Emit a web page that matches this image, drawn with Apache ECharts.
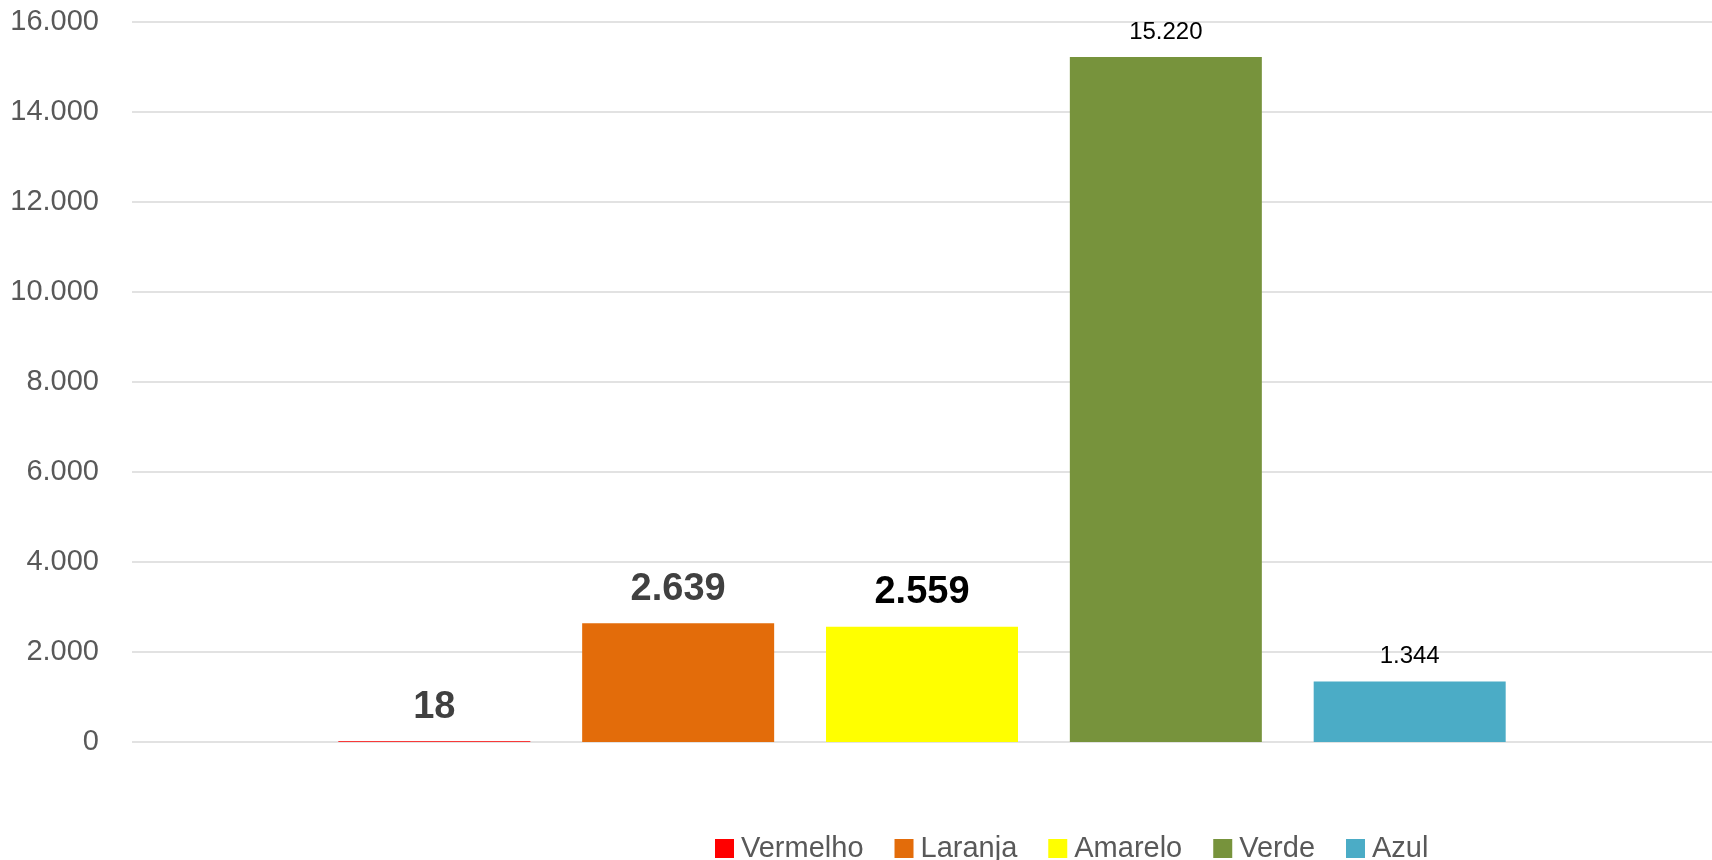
<!DOCTYPE html>
<html>
<head>
<meta charset="utf-8">
<script src="https://cdn.jsdelivr.net/npm/echarts@6/dist/echarts.min.js"></script>
<style>
  html, body { margin: 0; padding: 0; background: #fff; }
  #chart { width: 1712px; height: 860px; }
</style>
</head>
<body>
<div id="chart"></div>
<script>
// Single category, one series per colour class
const categories = [''];
const seriesNames = ['Vermelho', 'Laranja', 'Amarelo', 'Verde', 'Azul'];
const seriesValues = [18, 2639, 2559, 15220, 1344];
const yTicks = { min: 0, max: 16000, interval: 2000 };

const palette = ['#FF0000', '#E36C0A', '#FFFF00', '#77933C', '#4BACC6'];
// value label style per series (bold large, or plain small)
const labelStyles = [
  { fontSize: 38, fontWeight: 'bold', color: '#404040', distance: 15 },
  { fontSize: 38, fontWeight: 'bold', color: '#404040', distance: 15 },
  { fontSize: 38, fontWeight: 'bold', color: '#000000', distance: 15 },
  { fontSize: 24, fontWeight: 'normal', color: '#000000', distance: 13 },
  { fontSize: 24, fontWeight: 'normal', color: '#000000', distance: 13 }
];

const FONT = '"Liberation Sans", Arial, sans-serif';
const fmt = v => String(v).replace(/\B(?=(\d{3})+(?!\d))/g, '.');

const chart = echarts.init(document.getElementById('chart'), null, { renderer: 'canvas' });

const series = seriesNames.map((name, i) => ({
  name: name,
  type: 'bar',
  data: [seriesValues[i]],
  barWidth: 192,
  barGap: '27%',
  itemStyle: { color: palette[i] },
  label: {
    show: true,
    position: 'top',
    distance: labelStyles[i].distance,
    fontFamily: FONT,
    fontSize: labelStyles[i].fontSize,
    fontWeight: labelStyles[i].fontWeight,
    color: labelStyles[i].color,
    formatter: p => fmt(p.value)
  }
}));

chart.setOption({
  animation: false,
  backgroundColor: '#ffffff',
  textStyle: { fontFamily: FONT },
  grid: { left: 132, right: 0, top: 22, bottom: 118, containLabel: false },
  legend: {
    data: seriesNames.map((n, i) => ({ name: n, itemStyle: { color: palette[i] } })),
    left: 710,
    top: 829,
    itemWidth: 19,
    itemHeight: 19,
    itemGap: 31,
    icon: 'rect',
    textStyle: { fontFamily: FONT, fontSize: 29, color: '#595959', padding: [0, 0, 0, 2] }
  },
  xAxis: {
    type: 'category',
    data: categories,
    axisLine: { show: false },
    axisTick: { show: false },
    axisLabel: { show: false }
  },
  yAxis: {
    type: 'value',
    min: yTicks.min,
    max: yTicks.max,
    interval: yTicks.interval,
    axisLine: { show: false },
    axisTick: { show: false },
    axisLabel: {
      margin: 33,
      fontFamily: FONT,
      fontSize: 29,
      color: '#595959',
      formatter: v => fmt(v)
    },
    splitLine: { lineStyle: { color: '#D9D9D9', width: 1.5 } }
  },
  series: series
});
</script>
</body>
</html>
